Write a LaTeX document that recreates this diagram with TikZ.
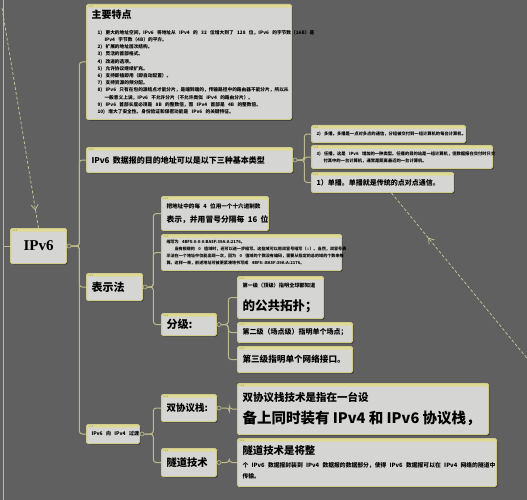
\documentclass[tikz,border=0pt]{standalone}
\usepackage{fontspec}
\setmainfont{Noto Sans CJK SC}[WordSpace=0.6]
\newfontfamily\rootfont{Liberation Serif}
\usetikzlibrary{arrows.meta,positioning,shadows,decorations.markings}
\definecolor{bgC}{HTML}{606060}
\definecolor{boxC}{HTML}{D5D5D3}
\definecolor{edgeC}{HTML}{CFCC8E}
\definecolor{headC}{HTML}{DEDB94}
\definecolor{lineC}{HTML}{BDBB8C}
\definecolor{relC}{HTML}{C9C79E}
\definecolor{dotC}{HTML}{8A8A70}
\newcommand{\fs}[2]{\fontsize{#1}{#2}\selectfont}
\newcommand{\row}[1]{\mbox{#1}}
\lineskiplimit=-100pt

\begin{document}
\begin{tikzpicture}[x=1pt,y=-1pt,font=\bfseries,>=Latex,
  topic/.style={draw=edgeC,fill=boxC,line width=1pt,rounded corners=1.5pt,
    anchor=north west,align=left,inner xsep=5pt,inner ysep=1pt,
    drop shadow={shadow xshift=1pt,shadow yshift=-1.2pt,opacity=.45,fill=black},
    path picture={
      \fill[headC] (path picture bounding box.north west) rectangle ([yshift=-3.2pt]path picture bounding box.north east);
      \foreach \k in {2.5,4.3,6.1}
        \fill[dotC] ([xshift=\k pt,yshift=-1.6pt]path picture bounding box.north west) circle (.5pt);}},
  knob/.style={circle,draw=lineC,fill=bgC,line width=.6pt,inner sep=0pt,minimum size=4pt},
  branch/.style={draw=lineC,line width=1pt,rounded corners=3pt},
  rel/.style={draw=relC,line width=.7pt,dash pattern=on 3pt off 2pt},
  relmark/.style={postaction=decorate,decoration={markings,
    mark=at position #1 with {\pgfsetdash{}{0pt}\arrow{Straight Barb[length=5pt,width=7pt]}}}},
  relback/.style={postaction=decorate,decoration={markings,
    mark=at position #1 with {\pgfsetdash{}{0pt}\arrowreversed{Straight Barb[length=5pt,width=7pt]}}}}]
\useasboundingbox (0,0) rectangle (527,500);
\clip (0,0) rectangle (527,500);
\fill[bgC] (0,0) rectangle (527,500);

% root and first level
\node[topic,align=center,minimum width=56pt,minimum height=35pt,
  font={\rootfont\bfseries\fs{15}{18}}] (root) at (10,228) {IPv6};

\node[topic,text width=195pt,minimum height=115pt] (feat) at (86,4)
  {{\fs{10}{13}主要特点}\\[9pt]%
   \fs{4.7}{7.2}%
   \row{\hspace{6pt}1) 更大的地址空间，IPv6 将地址从 IPv4 的 32 位增大到了 128 位，IPv6 的字节数（16B）是}\\%
   \row{\hspace{13pt}IPv4 字节数（4B）的平方。}\\%
   \row{\hspace{6pt}2) 扩展的地址层次结构。}\\%
   \row{\hspace{6pt}3) 灵活的首部格式。}\\%
   \row{\hspace{6pt}4) 改进的选项。}\\%
   \row{\hspace{6pt}5) 允许协议继续扩充。}\\%
   \row{\hspace{6pt}6) 支持即插即用（即自动配置）。}\\%
   \row{\hspace{6pt}7) 支持资源的预分配。}\\%
   \row{\hspace{6pt}8) IPv6 只有在包的源结点才能分片，是端到端的，传输路径中的路由器不能分片，所以从}\\%
   \row{\hspace{13pt}一般意义上说，IPv6 不允许分片（不允许类似 IPv4 的路由分片）。}\\%
   \row{\hspace{6pt}9) IPv6 首部长度必须是 8B 的整数倍，而 IPv4 首部是 4B 的整数倍。}\\%
   \row{\hspace{6pt}10) 增大了安全性。身份验证和保密功能是 IPv6 的关键特征。}\par};

\node[topic,text width=196pt,minimum height=25pt] (dest) at (86,147)
  {\fs{8}{10}\row{IPv6 数据报的目的地址可以是以下三种基本类型}};
\node[topic,text width=46pt,minimum height=27pt] (repr) at (86,273)
  {\fs{11}{13}表示法};
\node[topic,text width=43pt,minimum height=19pt] (trans) at (86,424)
  {\fs{5}{7}\row{IPv6 向 IPv4 过渡}};

% address types
\node[topic,text width=144pt,minimum height=17pt] (multi) at (311,125)
  {\fs{4.3}{6}\row{2) 多播。多播是一点对多点的通信，分组被交付到一组计算机的每台计算机。}};
\node[topic,text width=171pt,minimum height=23pt] (any) at (311,145)
  {\fs{4.3}{7}\row{3) 任播。这是 IPv6 增加的一种类型。任播的目的站是一组计算机，但数据报在交付时只交}\\%
   \row{\hspace{7pt}付其中的一台计算机，通常是距离最近的一台计算机。}\par};
\node[topic,text width=132pt,minimum height=20pt] (uni) at (311,172)
  {\fs{7}{9}1）单播。单播就是传统的点对点通信。};

% notation
\node[topic,text width=97pt,minimum height=34pt] (reprA) at (161,196)
  {\fs{5.6}{8}\row{把地址中的每 4 位用一个十六进制数}\\[4pt]%
   \fs{7.8}{10}\row{表示，并用冒号分隔每 16 位}\par};
\node[topic,text width=170pt,minimum height=36pt] (reprB) at (161,234)
  {\fs{4.1}{6.8}\row{缩写为 4BF5:0:0:0:BA5F:39A:A:2176。}\\%
   \row{\hspace{8pt}当有相继的 0 值域时，还可以进一步缩写。这些域可以用双冒号缩写（::）。当然，双冒号表}\\%
   \row{示法在一个地址中仅能出现一次，因为 0 值域的个数没有编码，需要从指定的总的域的个数来推}\\%
   \row{算。这样一来，前述地址可被更紧凑地书写成 4BF5::BA5F:39A:A:2176。}\par};
\node[topic,text width=45pt,minimum height=22pt] (level) at (161,313)
  {\fs{11}{13}分级:};
\node[topic,text width=76pt,minimum height=42pt] (levA) at (237,276)
  {\fs{5.2}{8}第一级（顶级）指明全球都知道\\[9pt]%
   \fs{12.5}{14}的公共拓扑；\par};
\node[topic,text width=105pt,minimum height=20pt] (levB) at (237,322)
  {\fs{7}{9}第二级（场点级）指明单个场点；};
\node[topic,text width=105pt,minimum height=26pt] (levC) at (237,346)
  {\fs{8.6}{10}第三级指明单个网络接口。};

% transition
\node[topic,text width=45pt,minimum height=27pt] (dual) at (161,394)
  {\fs{9.5}{11}双协议栈:};
\node[topic,text width=241pt,minimum height=51pt] (dualD) at (237,383)
  {\fs{10.5}{13}双协议栈技术是指在一台设\\[5pt]%
   \fs{14.5}{17}\row{备上同时装有 IPv4 和 IPv6 协议栈，}\par};
\node[topic,text width=45pt,minimum height=28pt] (tunnel) at (161,448)
  {\fs{10.3}{12}隧道技术};
\node[topic,text width=249pt,minimum height=48pt] (tunnelD) at (237,438)
  {\fs{10.4}{13}隧道技术是将整\\[2pt]%
   \fs{5.8}{11}\row{个 IPv6 数据报封装到 IPv4 数据报的数据部分，使得 IPv6 数据报可以在 IPv4 网络的隧道中}\\%
   传输。\par};

% knobs
\node[knob] (kRoot) at ([xshift=2pt]root.east) {};
\node[knob] (kDest) at ([xshift=2pt]dest.east) {};
\node[knob] (kRepr) at ([xshift=2pt]repr.east) {};
\node[knob] (kLevel) at ([xshift=2pt]level.east) {};
\node[knob] (kTrans) at ([xshift=2pt]trans.east) {};
\node[knob] (kDual) at ([xshift=2pt]dual.east) {};
\node[knob] (kTunnel) at ([xshift=2pt]tunnel.east) {};

% branches
\foreach \t in {feat,dest,repr,trans}
  \draw[branch] (kRoot.east) -- ++(8,0) |- (\t.west);
\foreach \t in {multi,any,uni}
  \draw[branch] (kDest.east) -- ++(7,0) |- (\t.west);
\foreach \t in {reprA,reprB,level}
  \draw[branch] (kRepr.east) -- ++(6,0) |- (\t.west);
\foreach \t in {levA,levB,levC}
  \draw[branch] (kLevel.east) -- ++(7,0) |- (\t.west);
\foreach \t in {dual,tunnel}
  \draw[branch] (kTrans.east) -- ++(9,0) |- (\t.west);
\draw[branch] (kDual.east) -- ++(8,0) |- (dualD.west);
\draw[branch] (kTunnel.east) -- ++(8,0) |- (tunnelD.west);

\coordinate (edgeTop) at (3,0);
\coordinate (edgeBot) at (3,500);
\draw[branch] (edgeTop) -- (edgeBot);
\draw[branch] (root.west) -- (root.west -| edgeTop);

% relationships
\coordinate (relStart) at (2,8);
\coordinate (relEnd) at (530,362);
\draw[rel,relmark=0.92] (relStart) -- (root.north);
\draw[rel,relback=0.265] ([xshift=9pt]uni.south) -- (relEnd);
\end{tikzpicture}
\end{document}
